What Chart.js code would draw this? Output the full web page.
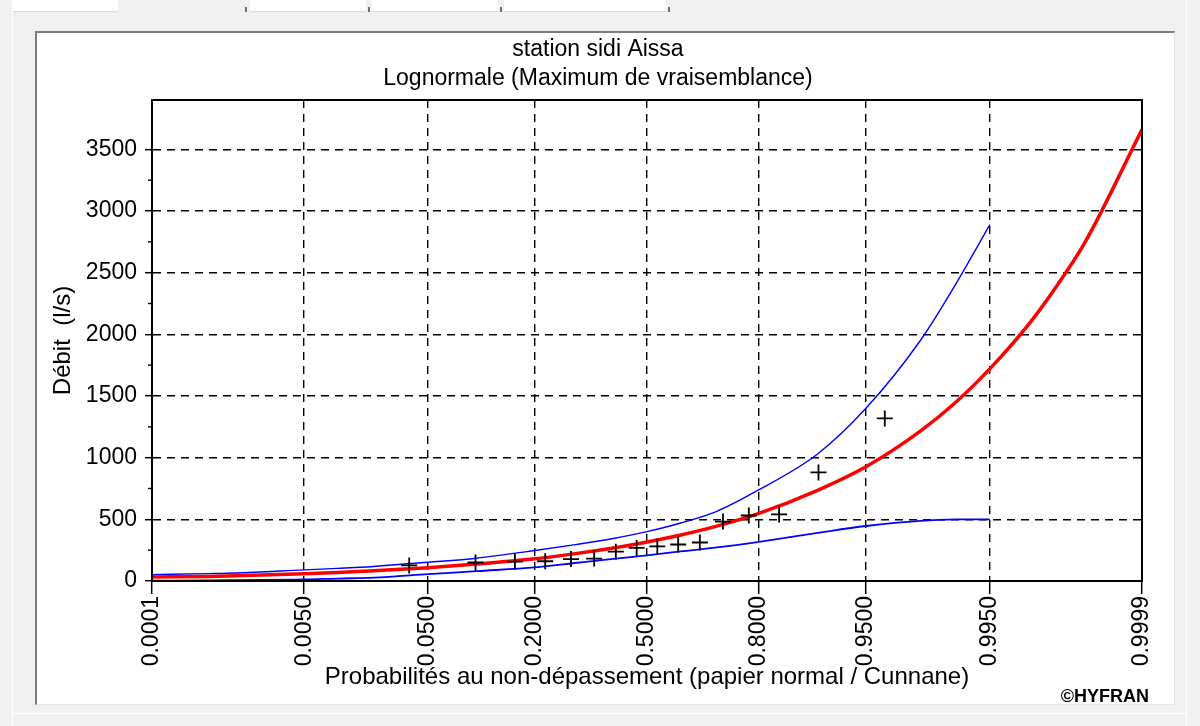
<!DOCTYPE html>
<html>
<head>
<meta charset="utf-8">
<title>station sidi Aissa - Lognormale</title>
<script src="https://cdn.jsdelivr.net/npm/chart.js@4"></script>
<style>
  html, body { margin: 0; padding: 0; width: 1200px; height: 726px; overflow: hidden; background: #f0f0f0; }
  .tab { position: absolute; top: 0; height: 11px; background: #fff; border-bottom: 1px solid #dadada; }
  .mark { position: absolute; top: 7px; width: 2px; height: 5px; background: #707070; }
  #edgeL { position: absolute; left: 12px; top: 0; width: 1px; height: 726px; background: #fff; }
  #edgeR { position: absolute; left: 1186px; top: 0; width: 1px; height: 726px; background: #fff; }
  #edgeB { position: absolute; left: 12px; top: 713px; width: 1175px; height: 1px; background: #fff; }
  #panel { position: absolute; left: 35px; top: 31px; width: 1140px; height: 674px; box-sizing: border-box;
           background: #fff; border-top: 2px solid #7c7c7c; border-left: 2px solid #7c7c7c;
           border-right: 1px solid #e3e3e3; border-bottom: 1px solid #e3e3e3; }
  #c { position: absolute; left: 0; top: 0; }
  #credit { position: absolute; right: 51px; top: 686px; line-height: 20px;
            font: bold 18px "Liberation Sans", Arial, sans-serif; color: #000; }
</style>
</head>
<body>
<div id="edgeL"></div>
<div id="edgeR"></div>
<div id="edgeB"></div>
<div class="tab" style="left:13px;width:105px;"></div>
<div class="tab" style="left:250px;width:116px;"></div>
<div class="tab" style="left:372px;width:126px;"></div>
<div class="tab" style="left:504px;width:162px;"></div>
<div class="mark" style="left:245px;"></div>
<div class="mark" style="left:368px;"></div>
<div class="mark" style="left:500px;"></div>
<div class="mark" style="left:668px;"></div>
<div id="panel"></div>
<canvas id="c" width="1200" height="726"></canvas>
<div id="credit">©HYFRAN</div>
<script>
// Probability ticks of the normal-probability paper (non-exceedance)
const probTicks = [0.0001, 0.005, 0.05, 0.2, 0.5, 0.8, 0.95, 0.995, 0.9999];
const probTickLabels = ['0.0001', '0.0050', '0.0500', '0.2000', '0.5000', '0.8000', '0.9500', '0.9950', '0.9999'];

// Discharge axis ticks (l/s)
const flowTicks = [0, 500, 1000, 1500, 2000, 2500, 3000, 3500];
const flowMinorTicks = [250, 750, 1250, 1750, 2250, 2750, 3250];

// Probabilities at which the fitted quantiles and bounds are given
const curveProbs = [0.0001, 0.0005, 0.001, 0.005, 0.01, 0.02, 0.05, 0.1, 0.2, 0.3, 0.4, 0.5,
                    0.6, 0.7, 0.8, 0.9, 0.95, 0.98, 0.99, 0.995, 0.998, 0.999, 0.9995, 0.9999];
// Lognormal quantiles (maximum likelihood), l/s
const fittedFlow = [32, 37, 42, 59, 69, 83, 108, 137, 180, 224, 268, 316,
                    373, 445, 548, 735, 926, 1215, 1455, 1720, 2095, 2410, 2745, 3660];
// Confidence interval, given up to p = 0.995
const upperFlow = [52, 60, 65, 90, 102, 118, 152, 185, 247, 297, 345, 400,
                   470, 565, 740, 1030, 1400, 1950, 2420, 2890];
const lowerFlow = [3, 5, 7, 12, 20, 27, 55, 80, 110, 148, 180, 208,
                   240, 272, 318, 390, 446, 488, 499, 500];

// Observed sample: Cunnane plotting positions and sorted discharges
const obsProbs = [0.0370, 0.0988, 0.1605, 0.2222, 0.2840, 0.3457, 0.4074, 0.4691,
                  0.5309, 0.5926, 0.6543, 0.7160, 0.7778, 0.8395, 0.9012, 0.9630];
const obsFlow = [126, 150, 157, 160, 178, 182, 238, 268, 280, 296, 312, 482, 531, 540, 880, 1318];

// Inverse of the standard normal CDF (Acklam), used as the x-axis transform
function probit(p) {
  const a = [-3.969683028665376e+01, 2.209460984245205e+02, -2.759285104469687e+02,
             1.383577518672690e+02, -3.066479806614716e+01, 2.506628277459239e+00];
  const b = [-5.447609879822406e+01, 1.615858368580409e+02, -1.556989798598866e+02,
             6.680131188771972e+01, -1.328068155288572e+01];
  const c = [-7.784894002430293e-03, -3.223964580411365e-01, -2.400758277161838e+00,
             -2.549732539343734e+00, 4.374664141464968e+00, 2.938163982698783e+00];
  const d = [7.784695709041462e-03, 3.224671290700398e-01, 2.445134137142996e+00,
             3.754408661907416e+00];
  const pl = 0.02425, ph = 1 - pl;
  let q, r;
  if (p < pl) {
    q = Math.sqrt(-2 * Math.log(p));
    return (((((c[0]*q + c[1])*q + c[2])*q + c[3])*q + c[4])*q + c[5]) /
           ((((d[0]*q + d[1])*q + d[2])*q + d[3])*q + 1);
  }
  if (p <= ph) {
    q = p - 0.5; r = q * q;
    return (((((a[0]*r + a[1])*r + a[2])*r + a[3])*r + a[4])*r + a[5]) * q /
           (((((b[0]*r + b[1])*r + b[2])*r + b[3])*r + b[4])*r + 1);
  }
  q = Math.sqrt(-2 * Math.log(1 - p));
  return -(((((c[0]*q + c[1])*q + c[2])*q + c[3])*q + c[4])*q + c[5]) /
          ((((d[0]*q + d[1])*q + d[2])*q + d[3])*q + 1);
}

const toPoints = (probs, vals) => vals.map((v, i) => ({ x: probit(probs[i]), y: v }));

const FONT = '"Liberation Sans", Arial, sans-serif';
const zMin = probit(probTicks[0]);
const zMax = probit(probTicks[probTicks.length - 1]);

// Plot frame and short minor ticks on the discharge axis
const framePlugin = {
  id: 'frame',
  afterDraw(chart) {
    const { ctx, chartArea: a, scales } = chart;
    ctx.save();
    ctx.strokeStyle = '#000';
    ctx.lineWidth = 2;
    ctx.strokeRect(a.left, a.top, a.right - a.left, a.bottom - a.top);
    ctx.lineWidth = 1.4;
    flowMinorTicks.forEach(v => {
      const py = scales.y.getPixelForValue(v);
      ctx.beginPath();
      ctx.moveTo(a.left - 4, py);
      ctx.lineTo(a.left, py);
      ctx.stroke();
    });
    ctx.restore();
  }
};

new Chart(document.getElementById('c'), {
  type: 'line',
  data: {
    datasets: [
      {
        label: 'Observations',
        data: toPoints(obsProbs, obsFlow),
        showLine: false,
        pointStyle: 'cross',
        pointRadius: 8,
        pointBorderColor: '#000',
        pointBackgroundColor: '#000',
        pointBorderWidth: 1.8
      },
      {
        label: 'Lognormale',
        data: toPoints(curveProbs, fittedFlow),
        borderColor: '#ff0000',
        borderWidth: 3.5,
        pointRadius: 0,
        cubicInterpolationMode: 'monotone'
      },
      {
        label: 'Borne supérieure',
        data: toPoints(curveProbs, upperFlow),
        borderColor: '#0000ff',
        borderWidth: 1.4,
        pointRadius: 0,
        cubicInterpolationMode: 'monotone'
      },
      {
        label: 'Borne inférieure',
        data: toPoints(curveProbs, lowerFlow),
        borderColor: '#0000ff',
        borderWidth: 1.8,
        pointRadius: 0,
        cubicInterpolationMode: 'monotone'
      }
    ]
  },
  options: {
    responsive: false,
    animation: false,
    events: [],
    layout: { padding: { left: 54, right: 58, top: 0, bottom: 0 } },
    plugins: {
      legend: { display: false },
      tooltip: { enabled: false },
      title: {
        display: true,
        text: ['station sidi Aissa', 'Lognormale (Maximum de vraisemblance)'],
        color: '#000',
        font: { family: FONT, size: 23, weight: 'normal', lineHeight: 29 / 23 },
        padding: { top: 35.5, bottom: 6.5 }
      }
    },
    scales: {
      x: {
        type: 'linear',
        min: zMin,
        max: zMax,
        afterBuildTicks: s => { s.ticks = probTicks.map(p => ({ value: probit(p) })); },
        afterFit: s => { s.height = 145; },
        ticks: {
          autoSkip: false,
          minRotation: 90,
          maxRotation: 90,
          padding: 2,
          color: '#000',
          font: { family: FONT, size: 23 },
          callback: (v, i) => probTickLabels[i]
        },
        grid: {
          color: '#000', lineWidth: 1.4,
          tickLength: 13, tickColor: '#000', tickWidth: 1.5, tickBorderDash: []
        },
        border: { display: true, color: '#222', width: 2, dash: [8, 6] },
        title: {
          display: true,
          text: 'Probabilités au non-dépassement (papier normal / Cunnane)',
          color: '#000',
          font: { family: FONT, size: 24 },
          padding: { top: 0, bottom: 34.6 }
        }
      },
      y: {
        type: 'linear',
        min: 0,
        max: 3900,
        afterBuildTicks: s => { s.ticks = flowTicks.map(v => ({ value: v })); },
        afterFit: s => { s.width = 98; },
        ticks: {
          padding: 8,
          color: '#000',
          font: { family: FONT, size: 23 },
          callback: v => String(v)
        },
        grid: {
          color: '#000', lineWidth: 1.4,
          tickLength: 7, tickColor: '#000', tickWidth: 1.5, tickBorderDash: []
        },
        border: { display: true, color: '#000', width: 2, dash: [8, 6] },
        title: {
          display: true,
          text: 'Débit  (l/s)',
          color: '#000',
          font: { family: FONT, size: 24 },
          padding: { top: -5.4, bottom: 0 }
        }
      }
    }
  },
  plugins: [framePlugin]
});
</script>
</body>
</html>
